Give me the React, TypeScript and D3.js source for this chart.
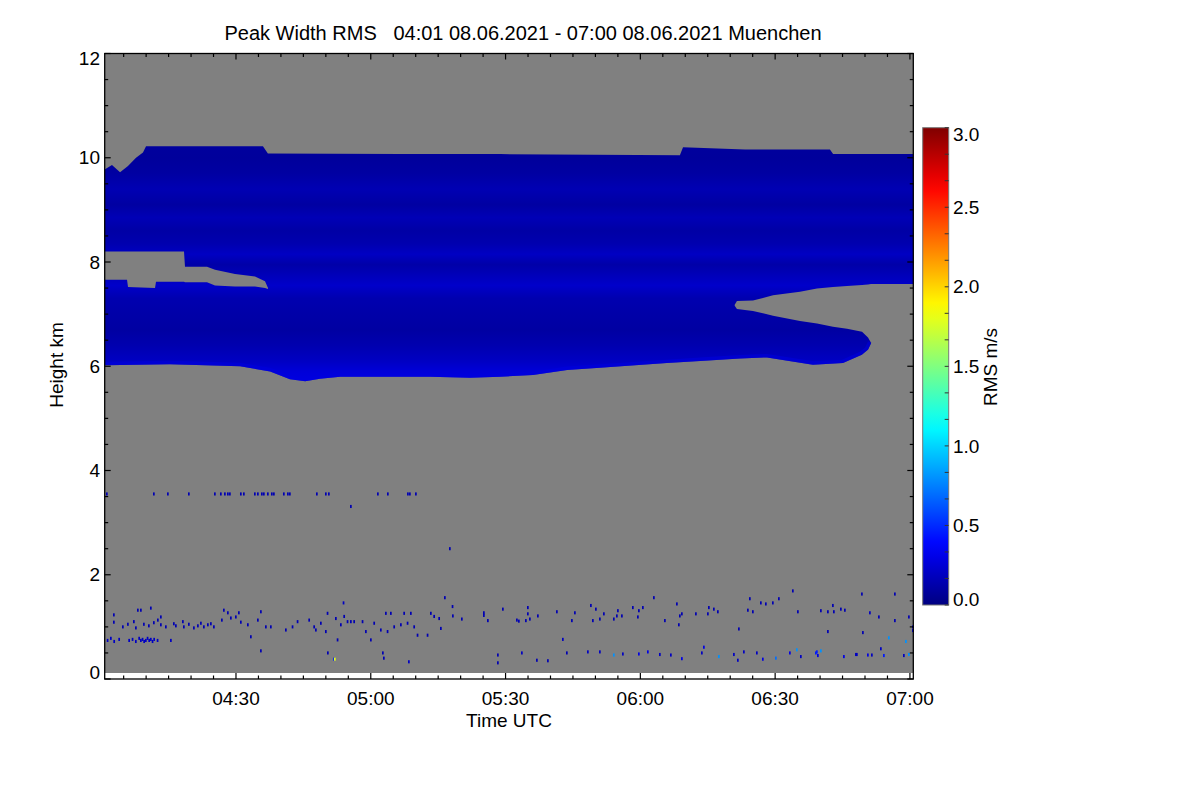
import * as d3 from 'd3'

// time = minutes after 04:00 UTC, height in km, rms in m/s
const xTickMinutes = [30, 60, 90, 120, 150, 180]
const xTickLabels = ['04:30', '05:00', '05:30', '06:00', '06:30', '07:00']
const yTickValues = [0, 2, 4, 6, 8, 10, 12]
const colorTickValues = [0, 0.5, 1, 1.5, 2, 2.5, 3]

const dataStart = 0.85
const dataEnd = 180.7
const lowestGate = 0.115

// upper edge of the cirrus deck [time, km]
const cloudTop: [number, number][] = [
  [0.85, 9.78], [2.4, 9.86], [4.2, 9.72], [5.96, 9.84], [7.75, 10.0], [9.3, 10.1], [9.98, 10.22],
  [36.0, 10.22], [37.1, 10.08], [66.5, 10.07], [88.8, 10.07], [128.8, 10.05], [129.5, 10.2],
  [143.3, 10.16], [162.2, 10.16], [162.9, 10.07], [180.7, 10.07],
]

// lower edge of the deck [time, km]
const cloudBase: [number, number][] = [
  [0.85, 6.02], [15.3, 6.04], [30.9, 6.0], [37.6, 5.9], [42.0, 5.75], [45.4, 5.71], [48.7, 5.76],
  [53.2, 5.8], [73.2, 5.8], [82.1, 5.78], [88.8, 5.8], [96.1, 5.83], [103.7, 5.93], [111.0, 5.97],
  [125.9, 6.06], [133.3, 6.1], [142.2, 6.15], [148.2, 6.17], [158.4, 6.03], [165.1, 6.06],
  [169.3, 6.22], [170.7, 6.32], [171.4, 6.45], [171.45, 7.58], [180.7, 7.58],
]

// clear slots inside the deck [time, upper km, lower km]
const leftGap: [number, number, number][] = [
  [0.85, 8.2, 7.66], [5.75, 8.2, 7.66], [5.97, 8.2, 7.52], [11.98, 8.2, 7.5], [12.2, 8.2, 7.62],
  [18.43, 8.2, 7.62], [18.65, 7.91, 7.61], [23.55, 7.91, 7.61], [25.33, 7.85, 7.55],
  [29.78, 7.77, 7.53], [34.23, 7.72, 7.53], [36.46, 7.63, 7.5], [37.13, 7.5, 7.48],
]
const rightGap: [number, number, number][] = [
  [141.0, 7.18, 7.16], [141.5, 7.25, 7.1], [145.07, 7.26, 7.06], [149.53, 7.36, 6.97],
  [155.53, 7.43, 6.87], [159.32, 7.49, 6.82], [162.88, 7.52, 6.76], [166.0, 7.54, 6.72],
  [169.34, 7.56, 6.66], [170.67, 7.57, 6.55], [171.34, 7.58, 6.45], [171.6, 7.58, 6.45],
]

// rms layering inside the deck [km, rms]
const rmsProfile: [number, number][] = [
  [5.6, 0.3], [5.9, 0.26], [6.1, 0.2], [6.4, 0.14], [6.7, 0.1], [7.0, 0.12], [7.3, 0.14],
  [7.55, 0.22], [7.75, 0.17], [7.95, 0.12], [8.15, 0.2], [8.35, 0.14], [8.6, 0.11], [8.85, 0.16],
  [9.1, 0.1], [9.4, 0.15], [9.7, 0.1], [10.0, 0.08], [10.3, 0.09],
]

// isolated returns [time, km, rms]
const speckles35: [number, number, number][] = [
  [1.07, 3.55, 0.15], [11.53, 3.55, 0.15], [14.65, 3.55, 0.15], [19.32, 3.55, 0.15], [25.11, 3.55, 0.15],
  [26.44, 3.55, 0.15], [27.34, 3.55, 0.15], [28.0, 3.55, 0.15], [28.45, 3.55, 0.15], [30.89, 3.55, 0.15],
  [31.56, 3.55, 0.15], [34.01, 3.55, 0.15], [34.68, 3.55, 0.15], [35.57, 3.55, 0.15], [36.01, 3.55, 0.15],
  [36.9, 3.55, 0.15], [37.79, 3.55, 0.15], [38.24, 3.55, 0.15], [40.46, 3.55, 0.15], [41.36, 3.55, 0.15],
  [41.8, 3.55, 0.15], [47.81, 3.55, 0.15], [49.81, 3.55, 0.15], [50.48, 3.55, 0.15], [61.39, 3.55, 0.15],
  [63.61, 3.55, 0.15], [68.07, 3.55, 0.15], [68.51, 3.55, 0.15], [69.85, 3.55, 0.15],
  [55.38, 3.31, 0.15], [77.41, 2.5, 0.15],
]

const specklesBoundary: [number, number, number][] = [
  [1.23, 0.74, 0.2], [1.96, 0.78, 0.2], [2.7, 0.72, 0.2], [3.81, 0.76, 0.2], [6.03, 0.74, 0.2],
  [6.79, 0.76, 0.2], [7.52, 0.72, 0.2], [8.26, 0.78, 0.2], [8.64, 0.74, 0.2], [9.02, 0.76, 0.2],
  [9.37, 0.72, 0.2], [9.75, 0.74, 0.2], [10.13, 0.78, 0.2], [10.49, 0.74, 0.2], [10.86, 0.76, 0.2],
  [11.24, 0.72, 0.2], [11.6, 0.76, 0.2], [12.36, 0.74, 0.2], [15.32, 0.74, 0.2],
  [2.63, 1.09, 0.15], [4.63, 1.0, 0.15], [5.75, 1.05, 0.15], [7.08, 1.1, 0.15], [7.53, 0.98, 0.15],
  [9.31, 1.05, 0.15], [10.42, 1.02, 0.15], [11.53, 1.08, 0.15], [13.09, 1.04, 0.15], [14.2, 1.0, 0.15],
  [15.98, 1.06, 0.15], [16.43, 1.02, 0.15], [17.99, 1.1, 0.15], [18.21, 1.0, 0.15], [19.32, 1.05, 0.15],
  [20.44, 0.98, 0.15], [21.33, 1.02, 0.15], [22.0, 1.07, 0.15], [22.66, 1.0, 0.15], [23.55, 1.04, 0.15],
  [24.22, 1.06, 0.15], [24.89, 1.0, 0.15],
  [2.63, 1.23, 0.15], [7.97, 1.32, 0.15], [8.64, 1.32, 0.15], [10.86, 1.36, 0.15], [12.42, 1.13, 0.15],
  [13.09, 1.19, 0.15],
  [26.67, 1.13, 0.15], [27.11, 1.32, 0.15], [28.0, 1.27, 0.15], [28.67, 1.17, 0.15], [29.78, 1.19, 0.15],
  [30.45, 1.27, 0.15], [30.89, 1.09, 0.15], [32.45, 1.04, 0.15], [33.12, 0.81, 0.15], [34.68, 1.13, 0.15],
  [35.35, 1.29, 0.15], [36.46, 1.0, 0.15], [37.57, 1.0, 0.15],
  [40.91, 0.94, 0.15], [42.4, 1.0, 0.15], [43.52, 1.1, 0.15], [46.1, 1.13, 0.15], [47.21, 1.0, 0.15],
  [47.59, 0.94, 0.15], [48.7, 1.07, 0.15], [49.81, 0.91, 0.15], [50.19, 1.26, 0.15], [52.04, 1.16, 0.15],
  [52.42, 0.75, 0.15], [53.15, 1.04, 0.15], [53.75, 1.46, 0.2], [53.89, 1.2, 0.15], [54.64, 1.1, 0.15],
  [55.38, 1.1, 0.15], [56.11, 1.1, 0.15], [57.98, 1.1, 0.15], [58.72, 0.91, 0.15], [59.83, 0.75, 0.15],
  [60.57, 1.07, 0.15], [62.05, 0.94, 0.15], [63.17, 1.26, 0.15], [63.55, 0.91, 0.15], [64.28, 1.26, 0.15],
  [65.02, 1.0, 0.15], [66.51, 1.04, 0.15], [67.24, 1.26, 0.15], [68.0, 1.07, 0.15], [68.73, 1.26, 0.15],
  [69.47, 1.0, 0.15], [70.22, 0.84, 0.15], [72.45, 0.84, 0.15], [73.18, 1.26, 0.15], [73.92, 1.2, 0.15],
  [75.03, 1.16, 0.15], [75.41, 0.97, 0.15], [76.3, 1.56, 0.15], [78.01, 1.39, 0.15],
  [78.08, 1.21, 0.15], [80.08, 1.15, 0.15], [84.98, 1.27, 0.15], [84.98, 1.22, 0.15], [85.87, 1.12, 0.15],
  [89.21, 1.34, 0.15], [92.33, 1.13, 0.15], [92.77, 1.11, 0.15], [94.33, 1.12, 0.15], [94.77, 1.37, 0.15],
  [94.77, 1.25, 0.15], [95.22, 1.15, 0.15], [97.0, 1.21, 0.15], [101.23, 1.29, 0.15], [104.57, 1.12, 0.15],
  [105.24, 1.27, 0.15], [108.8, 1.41, 0.15], [109.24, 1.12, 0.15], [109.91, 1.34, 0.15], [110.8, 1.15, 0.15],
  [111.69, 1.25, 0.15], [113.91, 1.15, 0.15], [114.58, 1.21, 0.15], [114.81, 1.31, 0.15], [115.7, 1.21, 0.15],
  [118.14, 1.37, 0.15], [119.26, 1.19, 0.15], [119.48, 1.31, 0.15], [120.37, 1.37, 0.15], [122.82, 1.56, 0.15],
  [125.27, 1.12, 0.15], [127.94, 1.44, 0.15], [128.6, 1.21, 0.15], [128.38, 1.04, 0.15], [129.05, 1.25, 0.15],
  [132.17, 1.25, 0.15], [134.84, 1.25, 0.15], [135.06, 1.37, 0.15], [136.17, 1.34, 0.15], [137.06, 1.29, 0.15],
  [141.74, 0.96, 0.15], [143.74, 1.32, 0.15], [144.18, 1.54, 0.15], [144.85, 1.29, 0.15], [146.63, 1.46, 0.15],
  [147.74, 1.44, 0.15], [149.3, 1.46, 0.15], [150.64, 1.54, 0.15], [153.75, 1.69, 0.15], [154.87, 1.29, 0.15],
  [159.99, 1.31, 0.15], [161.55, 1.29, 0.15], [161.55, 0.91, 0.15], [162.66, 1.41, 0.15], [162.88, 1.29, 0.15],
  [164.44, 1.34, 0.15], [165.33, 1.32, 0.15], [169.12, 1.63, 0.15], [176.46, 1.63, 0.15], [170.9, 1.27, 0.2],
  [172.9, 1.19, 0.15], [176.46, 1.12, 0.15], [179.58, 1.19, 0.15], [180.47, 1.0, 0.3], [180.47, 0.93, 0.3],
  [169.34, 0.89, 0.15], [175.12, 0.79, 0.8], [178.91, 0.72, 0.8],
]

const specklesLow: [number, number, number][] = [
  [35.35, 0.54, 0.15], [50.26, 0.5, 0.15], [51.59, 0.38, 0.45], [51.8, 0.38, 1.8], [62.5, 0.5, 0.15],
  [62.72, 0.4, 0.15], [68.29, 0.33, 0.2], [102.56, 0.76, 0.2], [88.1, 0.46, 0.15], [88.1, 0.31, 0.15],
  [93.44, 0.5, 0.2], [96.78, 0.36, 0.15], [99.23, 0.35, 0.15], [103.45, 0.5, 0.15], [108.13, 0.52, 0.2],
  [110.8, 0.52, 0.2], [113.91, 0.46, 0.8], [115.92, 0.48, 0.2], [119.48, 0.48, 0.3], [121.48, 0.52, 0.3],
  [124.15, 0.47, 0.2], [126.6, 0.46, 0.2], [129.05, 0.39, 0.3], [133.95, 0.61, 0.3], [133.5, 0.5, 0.2],
  [137.29, 0.43, 0.8], [140.63, 0.47, 0.2], [141.51, 0.36, 0.2], [142.85, 0.52, 0.2], [145.74, 0.5, 0.2],
  [147.07, 0.38, 0.3], [149.97, 0.4, 0.7], [153.09, 0.5, 0.3], [154.64, 0.56, 0.8], [155.53, 0.43, 0.2],
  [158.87, 0.5, 0.45], [159.1, 0.52, 0.45], [159.32, 0.45, 0.3], [159.99, 0.54, 0.8], [165.11, 0.43, 0.3],
  [167.78, 0.47, 0.2], [173.34, 0.58, 0.2], [168.0, 0.47, 0.2], [170.45, 0.46, 0.3], [171.34, 0.46, 0.2],
  [174.01, 0.45, 0.45], [178.46, 0.45, 0.2], [179.58, 0.47, 0.8],
]

const gateKm = 0.06
const stepMin = 0.38

const W = 1200
const H = 800
const M = { left: 104.7, right: 913.3, top: 53.5, bottom: 679 }
const BAR = { left: 922.7, right: 948.7, top: 127.7, bottom: 605 }
const FONT = '"Liberation Sans", Arial, Helvetica, sans-serif'
const GRAY = '#808080'

// IDL-style rainbow (jet) over 0..3 m/s
function jet(v: number) {
  const f = Math.max(0, Math.min(1, v / 3))
  const ch = (u: number) => Math.round(255 * Math.max(0, Math.min(1, 1.5 - Math.abs(u))))
  return `rgb(${ch(4 * f - 3)},${ch(4 * f - 2)},${ch(4 * f - 1)})`
}

export default function App() {
  const x = d3.scaleLinear().domain([0.78, 180.75]).range([M.left, M.right])
  const y = d3.scaleLinear().domain([0, 12]).range([M.bottom, M.top])
  const c = d3.scaleLinear().domain([0, 3]).range([BAR.bottom, BAR.top])

  const line = d3.line<[number, number]>().x(d => x(d[0])).y(d => y(d[1]))
  const cloudPath = line([...cloudTop, ...[...cloudBase].reverse()]) + 'Z'
  const gapArea = d3.area<[number, number, number]>()
    .x(d => x(d[0]))
    .y0(d => y(d[2]))
    .y1(d => y(d[1]))
  const fringe = line(cloudBase.filter(d => d[0] <= 171.4))

  const kmLo = rmsProfile[0][0]
  const kmHi = rmsProfile[rmsProfile.length - 1][0]

  const speckles = [...speckles35, ...specklesBoundary, ...specklesLow]

  const yMinor = d3.range(0, 12.001, 0.5)
  const xMinor = d3.range(5, 180.001, 5)
  const barMinor = d3.range(0, 3.001, 0.5 / 3)

  return (
    <svg width={W} height={H} style={{ position: 'absolute', left: 0, top: 0, background: '#fff' }}
      fontFamily={FONT}>
      <defs>
        <linearGradient id="rmsLayers" gradientUnits="userSpaceOnUse" x1={0} x2={0} y1={y(kmLo)} y2={y(kmHi)}>
          {rmsProfile.map(([km, v], i) => (
            <stop key={i} offset={(km - kmLo) / (kmHi - kmLo)} stopColor={jet(v)} />
          ))}
        </linearGradient>
        <linearGradient id="barGrad" x1={0} x2={0} y1={1} y2={0}>
          {d3.range(0, 3.001, 0.1).map((v, i) => (
            <stop key={i} offset={v / 3} stopColor={jet(v)} />
          ))}
        </linearGradient>
        <clipPath id="cloudClip">
          <path d={cloudPath} />
        </clipPath>
      </defs>

      {/* no-signal background */}
      <rect x={x(dataStart)} y={y(12)} width={x(dataEnd) - x(dataStart)} height={y(lowestGate) - y(12)} fill={GRAY} />

      {/* cloud deck */}
      <path d={cloudPath} fill="url(#rmsLayers)" />
      <g clipPath="url(#cloudClip)">
        <path d={fringe ?? ''} fill="none" stroke={jet(0.28)} strokeWidth={7} strokeOpacity={0.55} />
      </g>
      <path d={gapArea(leftGap) ?? ''} fill={GRAY} />
      <path d={gapArea(rightGap) ?? ''} fill={GRAY} />

      {/* isolated returns */}
      {speckles.map(([t, km, v], i) => (
        <rect key={i} x={x(t)} y={y(km + gateKm / 2)} width={x(t + stepMin) - x(t)}
          height={y(km - gateKm / 2) - y(km + gateKm / 2)} fill={jet(v)} />
      ))}

      {/* frame */}
      <rect x={M.left} y={M.top} width={M.right - M.left} height={M.bottom - M.top} fill="none" stroke="#000" strokeWidth={1.3} />

      {yMinor.map((v, i) => {
        const len = v % 2 === 0 ? 6 : 3.5
        return (
          <g key={i} stroke="#000" strokeWidth={1.2}>
            <line x1={M.left} x2={M.left + len} y1={y(v)} y2={y(v)} />
            <line x1={M.right - len} x2={M.right} y1={y(v)} y2={y(v)} />
          </g>
        )
      })}
      {xMinor.map((m, i) => {
        const len = m % 30 === 0 ? 6 : 3.5
        return (
          <g key={i} stroke="#000" strokeWidth={1.2}>
            <line x1={x(m)} x2={x(m)} y1={M.bottom} y2={M.bottom - len} />
            <line x1={x(m)} x2={x(m)} y1={M.top} y2={M.top + len} />
          </g>
        )
      })}

      {/* tick labels */}
      {yTickValues.map(v => {
        const shift = v === 0 ? -6.5 : v === 12 ? 4.5 : 0
        return (
          <text key={v} x={100} y={y(v) + shift} dy="0.35em" textAnchor="end" fontSize={19}>{v}</text>
        )
      })}
      {xTickMinutes.map((m, i) => (
        <text key={m} x={x(m)} y={705} textAnchor="middle" fontSize={19}>{xTickLabels[i]}</text>
      ))}

      <text x={509} y={727} textAnchor="middle" fontSize={19}>Time UTC</text>
      <text transform="translate(63,365) rotate(-90)" textAnchor="middle" fontSize={19}>Height km</text>
      <text x={523} y={40} textAnchor="middle" fontSize={20} style={{ whiteSpace: 'pre' }}>
        {'Peak Width RMS   04:01 08.06.2021 - 07:00 08.06.2021 Muenchen'}
      </text>

      {/* colour bar */}
      <rect x={BAR.left} y={BAR.top} width={BAR.right - BAR.left} height={BAR.bottom - BAR.top}
        fill="url(#barGrad)" stroke="#777" strokeWidth={1} />
      {barMinor.map((v, i) => (
        <line key={i} x1={BAR.right - 4} x2={BAR.right} y1={c(v)} y2={c(v)} stroke="#333" strokeWidth={1} />
      ))}
      {colorTickValues.map(v => {
        const shift = v === 0 ? -6 : v === 3 ? 7 : 0
        return (
          <text key={v} x={953} y={c(v) + shift} dy="0.35em" fontSize={19}>{v.toFixed(1)}</text>
        )
      })}
      <text transform="translate(997,367) rotate(-90)" textAnchor="middle" fontSize={19}>RMS m/s</text>
    </svg>
  )
}
